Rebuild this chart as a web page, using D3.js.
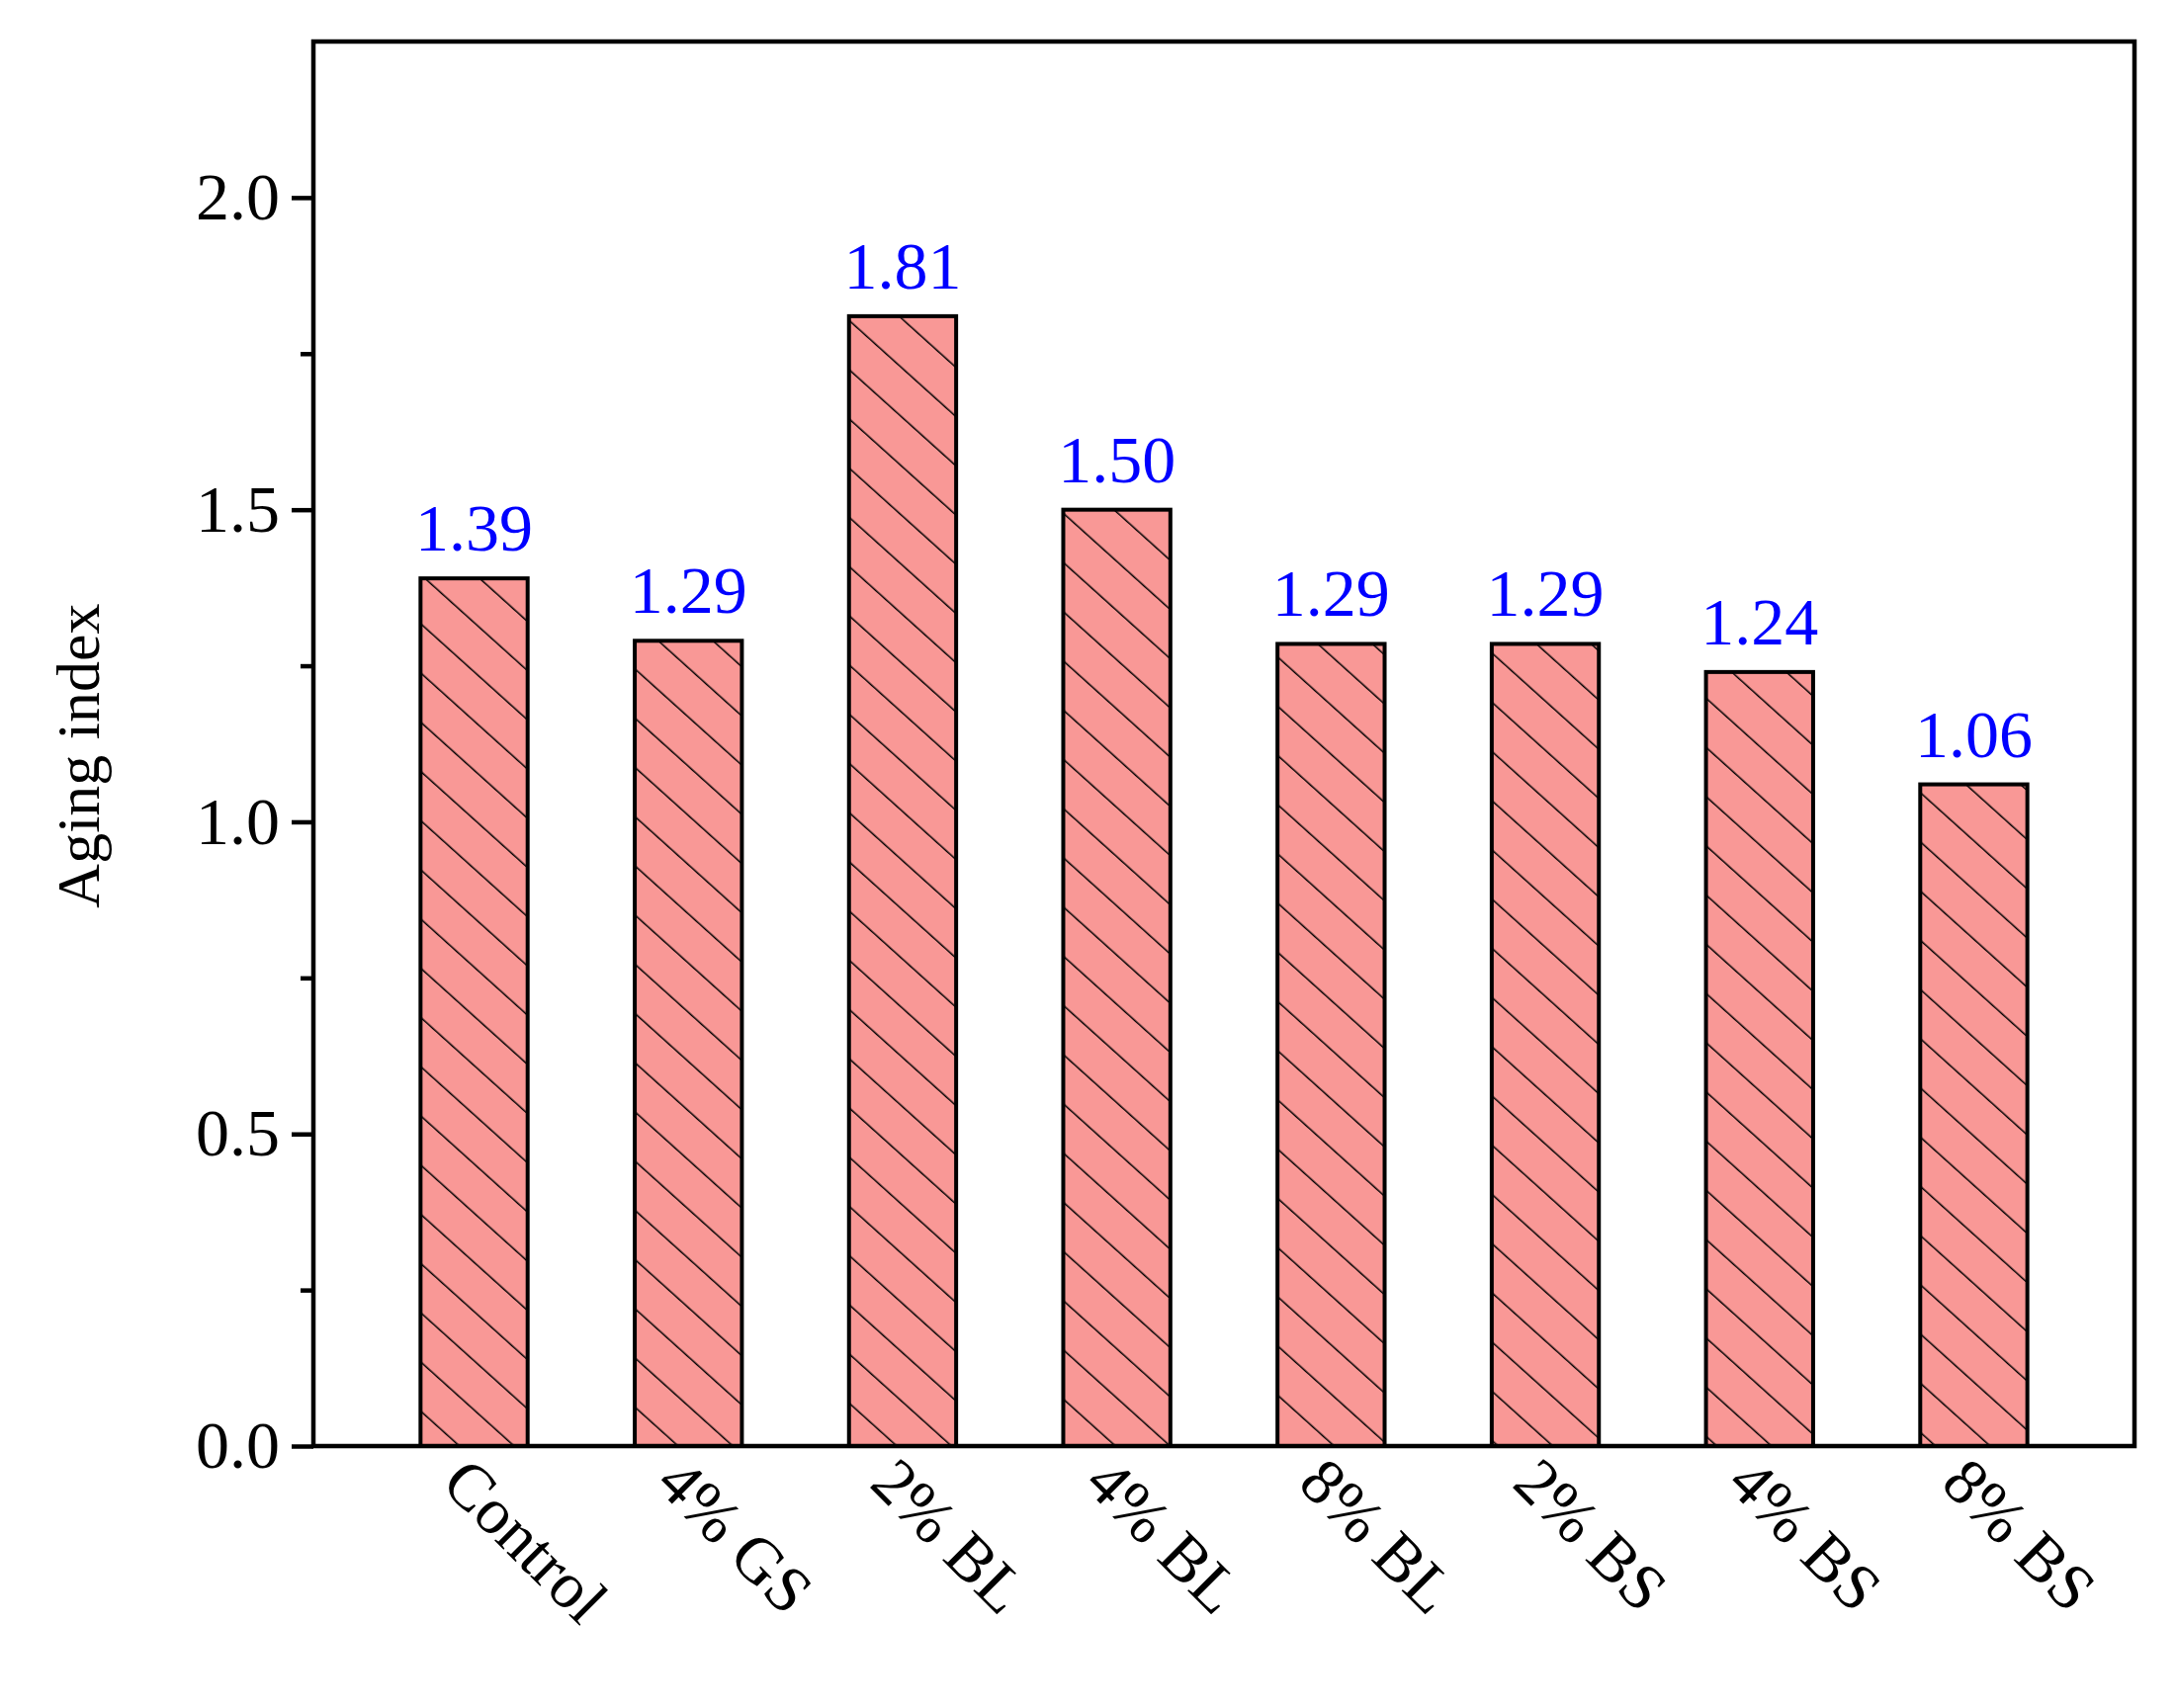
<!DOCTYPE html>
<html><head><meta charset="utf-8">
<script src="https://cdn.jsdelivr.net/npm/d3@7"></script>
<style>body{margin:0;background:#fff}</style></head>
<body><svg id="c" width="2201" height="1728"></svg>
<script>
const categories=["Control","4% GS","2% BL","4% BL","8% BL","2% BS","4% BS","8% BS"];
const values=[1.39,1.29,1.81,1.50,1.285,1.285,1.24,1.06];
const labels=["1.39","1.29","1.81","1.50","1.29","1.29","1.24","1.06"];
const yTicks=[0,0.5,1.0,1.5,2.0];
const yMinor=[0.25,0.75,1.25,1.75];

const svg=d3.select("#c");
const L=317,R=2159,T=42,B=1463;
const x=d3.scaleBand().domain(categories).range([L,R]).padding(0.5);
const y=d3.scaleLinear().domain([0,2.25]).range([B,T]);
const font="'Liberation Serif','Times New Roman',serif";

const defs=svg.append("defs");
const p=defs.append("pattern").attr("id","h").attr("patternUnits","userSpaceOnUse")
 .attr("width",37).attr("height",37).attr("patternTransform","rotate(-48)");
p.append("rect").attr("width",37).attr("height",37).attr("fill","#F99896");
p.append("line").attr("x1",0).attr("y1",0).attr("x2",0).attr("y2",37).attr("stroke","#000").attr("stroke-width",3);

svg.selectAll("rect.bar").data(values).enter().append("rect").attr("class","bar")
 .attr("x",(d,i)=>x(categories[i])).attr("y",d=>y(d))
 .attr("width",x.bandwidth()).attr("height",d=>B-y(d))
 .attr("fill","url(#h)").attr("stroke","#000").attr("stroke-width",4);

svg.selectAll("text.v").data(values).enter().append("text")
 .attr("x",(d,i)=>x(categories[i])+x.bandwidth()/2).attr("y",d=>y(d)-28)
 .attr("text-anchor","middle").attr("font-family",font).attr("font-size",68).attr("fill","#0000ff")
 .text((d,i)=>labels[i]);

// frame
svg.append("rect").attr("x",L).attr("y",T).attr("width",R-L).attr("height",B-T)
 .attr("fill","none").attr("stroke","#000").attr("stroke-width",4.5);

const ya=svg.append("g").attr("transform",`translate(${L},0)`)
 .call(d3.axisLeft(y).tickValues(yTicks).tickFormat(d3.format(".1f")).tickSize(22).tickPadding(12));
ya.select(".domain").remove();
ya.selectAll("line").attr("stroke-width",4.5);
ya.selectAll("text").attr("font-family",font).attr("font-size",68).attr("fill","#000");
const ym=svg.append("g").attr("transform",`translate(${L},0)`)
 .call(d3.axisLeft(y).tickValues(yMinor).tickFormat("").tickSize(13));
ym.select(".domain").remove();
ym.selectAll("line").attr("stroke-width",4.5);

const xa=svg.append("g").attr("transform",`translate(0,${B})`)
 .call(d3.axisBottom(x).tickSize(0).tickPadding(0));
xa.select(".domain").remove();
xa.selectAll("text").attr("font-family",font).attr("font-size",66).attr("fill","#000")
 .attr("text-anchor","start").attr("dy",0)
 .attr("transform","translate(-35,40) rotate(45)");

svg.append("text").attr("transform",`translate(100,${(T+B)/2+12}) rotate(-90)`)
 .attr("text-anchor","middle").attr("font-family",font).attr("font-size",62).text("Aging index");
</script></body></html>
